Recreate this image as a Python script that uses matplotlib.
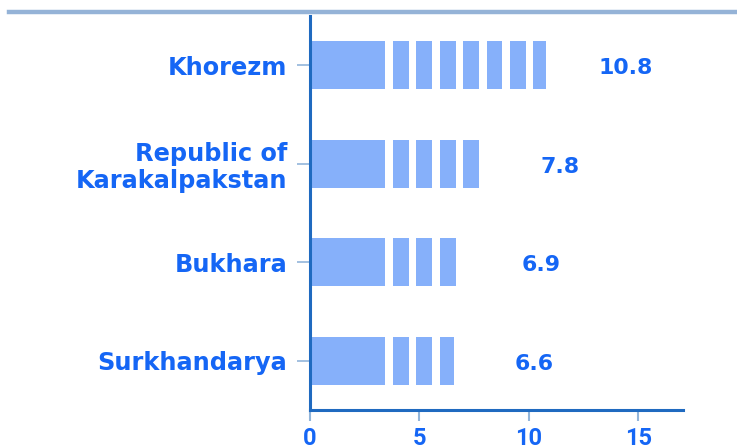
import numpy as np
import matplotlib.pyplot as plt
from matplotlib.lines import Line2D

regions = ['Surkhandarya', 'Bukhara', 'Republic of\nKarakalpakstan', 'Khorezm']
values = [6.6, 6.9, 7.8, 10.8]
x_ticks = [0, 5, 10, 15]

text_col = '#1566f5'
bar_col = '#86b0fa'
spine_col = '#1f6ac0'
tick_col = '#92b5da'

plt.rcParams['font.family'] = ['DejaVu Sans']

fig = plt.figure(figsize=(7.37, 4.45), dpi=100)
ax = fig.add_axes([0.4206, 0.0787, 0.5061, 0.8853])

y = np.arange(len(regions))
ax.barh(y, values, height=0.49, color=bar_col, zorder=2)

# white cuts that split each bar into blocks
cut_start, cut_step, cut_w = 3.62, 1.07, 0.34
for yi, v in zip(y, values):
    c = cut_start
    while c - cut_w / 2 < v:
        ax.barh(yi, cut_w, left=c - cut_w / 2, height=0.52, color='white', zorder=3)
        c += cut_step
    ax.text(v + 3.65, yi - 0.03, f'{v}', ha='center', va='center',
            fontsize=15.8, fontweight='bold', color=text_col)

ax.set_xlim(0, 17.05)
ax.set_ylim(-0.5, 3.5)
ax.set_yticks(y)
ax.set_yticklabels(regions, fontsize=17.3, fontweight='bold', color=text_col,
                   linespacing=1.15)
ax.set_xticks(x_ticks)
ax.set_xticklabels([str(t) for t in x_ticks], fontsize=17, fontweight='bold',
                   color=text_col, family='Roboto')
ax.tick_params(axis='y', length=9.5, width=1.2, color=tick_col, pad=7)
ax.tick_params(axis='x', length=8, width=1.5, color=tick_col, pad=4)

for s in ['top', 'right']:
    ax.spines[s].set_visible(False)
for s in ['left', 'bottom']:
    ax.spines[s].set_color(spine_col)
    ax.spines[s].set_linewidth(2.2)

fig.add_artist(Line2D([0.012, 1.0], [0.973, 0.973], transform=fig.transFigure,
                      color='#95b3d7', linewidth=3.2))

fig.savefig('out.png', dpi=100)
